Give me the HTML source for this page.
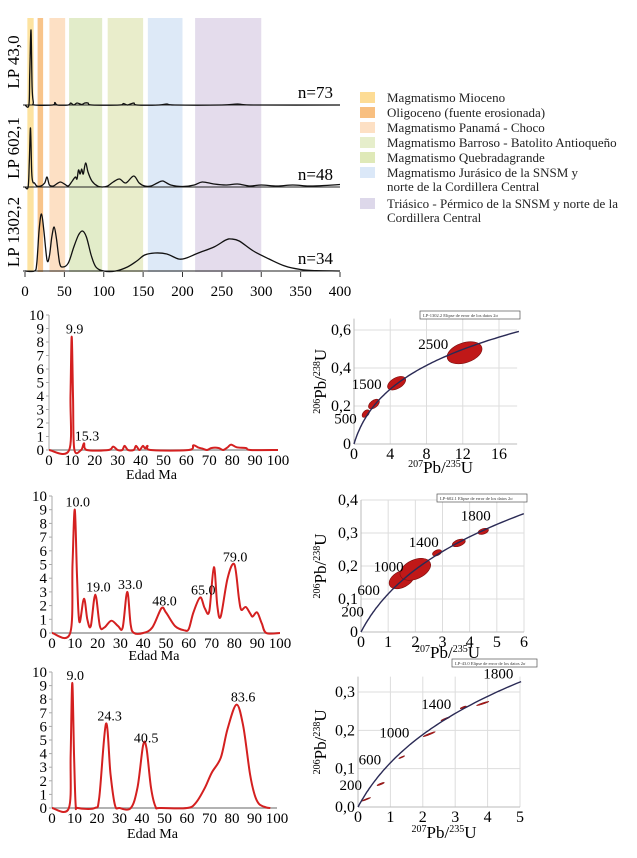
<!DOCTYPE html>
<html><head><meta charset="utf-8">
<style>
body{margin:0;background:#fff;}
svg{display:block;font-family:"Liberation Serif",serif;}
</style></head>
<body>
<svg id="fig" width="637" height="858" viewBox="0 0 637 858">
<g id="top"></g>
<g id="legend"></g>
<g id="p1"></g>
<g id="p2"></g>
<g id="p3"></g>
<g id="c1"></g>
<g id="c2"></g>
<g id="c3"></g>
</svg>
<script>
// ---------- data ----------
const bandStarts=[3,16,31,56,105,156,216];
const bandEnds=[11,23,51,98,150,200,300];
const bandColors=['#fde3a0','#f8c48a','#fde0c4','#e2ecc9','#e9edcb','#dde9f7','#e4dcec'];
const legendLabels=[['Magmatismo Mioceno'],['Oligoceno (fuente erosionada)'],['Magmatismo Panamá - Choco'],['Magmatismo Barroso - Batolito Antioqueño'],['Magmatismo Quebradagrande'],['Magmatismo Jurásico de la SNSM y','norte de la Cordillera Central'],['Triásico - Pérmico de la SNSM y norte de la','Cordillera Central']];
const legendColors=['#fddc95','#f8bf80','#fde0c4','#e6eecb','#dfe9b8','#dbe8f8','#ddd8ea'];
const sampleNames=['LP 43,0','LP 602,1','LP 1302,2'];
const sampleN=['n=73','n=48','n=34'];
const spec43=[[0,0],[5,0],[6,30],[7.6,75],[9,18],[10.5,3],[12,0],[35,0],[38,2.5],[41,0],[55,0],[58,2],[62,0],[66,2],[72,0.5],[76,2],[80,2],[85,0],[120,0],[125,1.5],[130,0],[138,2],[142,0],[170,0],[180,1],[190,0],[250,0],[270,1],[290,0],[400,0]];
const spec602=[[0,0],[4,0],[5.5,25],[7,59],[8.5,15],[10,5],[12,4],[15,1],[20,1],[25,4],[28,10],[31,2],[36,1],[40,3],[45,5],[50,3],[55,1],[60,6],[64,10],[66,8],[68,17],[70,13],[72,18],[74,13],[77,24],[80,15],[85,6],[92,1],[98,0],[105,1],[112,5],[120,8],[128,4],[138,11],[145,4],[152,1],[160,1],[168,4],[175,6],[185,2],[200,0.5],[215,2],[225,5],[240,3],[255,2],[270,3],[285,1],[300,2],[320,1],[340,2],[360,1],[380,1.5],[400,2.5]];
const spec1302=[[0,0],[12,0],[15,8],[18,42],[21,57],[24,40],[28,11],[31,15],[34,34],[37,44],[40,32],[44,8],[48,4],[55,8],[62,24],[68,36],[73,40],[78,34],[84,16],[90,4],[100,0],[115,0],[130,4],[142,10],[152,16],[165,18],[180,17],[195,12],[205,13],[220,18],[240,24],[255,31],[262,32],[272,30],[290,20],[310,12],[330,5],[350,1.5],[370,0.3],[400,0]];
const ageTicks=[0,50,100,150,200,250,300,350,400];

const prob1=[[0,0],[8.8,0],[9.4,4],[9.9,8.4],[10.5,4],[11,0.1],[14,0],[15.3,0.5],[16.5,0],[26,0],[28,0.25],[30,0],[32,0],[33,0.3],[34.5,0],[37,0],[38,0.3],[39.5,0],[41,0.3],[42,0.1],[43,0.3],[44.5,0],[61,0],[63,0.35],[65,0.2],[67,0.1],[69,0],[71,0.15],[74,0.15],[76,0],[78,0.2],[79.5,0.4],[82,0.2],[86,0.15],[88,0],[100,0]];
const prob2=[[0,0],[8,0],[9,5],[10,9],[11,4],[12,0.8],[14,2.5],[15.5,1],[17,0.5],[19,2.8],[21,0.5],[23,0.4],[26,0.9],[29,0.5],[31,0.4],[33,3],[34.5,0.6],[36,0],[40,0],[44,0.4],[48,1.8],[50,1.5],[54,0.5],[58,0.2],[60,0.3],[62,1.5],[65,2.6],[67,1.8],[69,1.6],[71,4.8],[72.5,2],[74,1.2],[77,4],[80,5],[82,2.5],[83,1.7],[85,1.9],[87,1.4],[88,1.2],[90,1.5],[92,0.7],[94,0],[100,0]];
const prob3=[[0,0],[7.5,0],[8.3,4],[9,9.2],[9.8,4],[10.5,0.3],[11.5,0],[19,0],[21,0.8],[24,6.2],[26,2.5],[28,0.2],[30,0],[35,0],[38,1.5],[40.5,4.6],[42,4.4],[44,1.5],[46,0.1],[48,0],[60,0],[64,0.4],[68,1.5],[71,2.6],[75,3.7],[78,5.8],[82,7.6],[85,6],[88,2.5],[90,1],[92,0.3],[95,0.05],[97,0]];
const peaks1=[[9.9,'9.9'],[15.3,'15.3']];
const peaks2=[[10,'10.0'],[19,'19.0'],[33,'33.0'],[48,'48.0'],[65,'65.0'],[79,'79.0']];
const peaks3=[[9,'9.0'],[24.3,'24.3'],[40.5,'40.5'],[83.6,'83.6']];
const probYTicks=[0,1,2,3,4,5,6,7,8,9,10];
const probXTicks=[0,10,20,30,40,50,60,70,80,90,100];

const ell1X=[1.3,2.2,4.7,12.2];const ell1Y=[0.16,0.21,0.32,0.48];const ell1A=[0.5,0.7,1.1,2.0];const ell1B=[0.3,0.4,0.6,1.1];
const ell2X=[1.5,2.0,2.8,3.6,4.5];const ell2Y=[0.16,0.19,0.24,0.27,0.305];const ell2A=[0.5,0.6,0.18,0.25,0.2];const ell2B=[0.3,0.35,0.1,0.12,0.1];
const ell3X=[0.25,0.7,1.35,2.2,2.7,3.25,3.85];const ell3Y=[0.02,0.06,0.13,0.19,0.23,0.26,0.27];const ell3A=[0.15,0.12,0.1,0.2,0.15,0.1,0.2];const ell3B=[0.015,0.02,0.015,0.02,0.02,0.02,0.02];
const con1XTicks=[0,4,8,12,16];const con1YTicks=[0,0.2,0.4,0.6];const con1YLab=['0','0,2','0,4','0,6'];
const con2XTicks=[0,1,2,3,4,5,6];const con2YTicks=[0,0.1,0.2,0.3,0.4];const con2YLab=['0','0,1','0,2','0,3','0,4'];
const con3XTicks=[0,1,2,3,4,5];const con3YTicks=[0,0.1,0.2,0.3];const con3YLab=['0,0','0,1','0,2','0,3'];
const con1Ages=[500,1500,2500];const con2Ages=[200,600,1000,1400,1800];const con3Ages=[200,600,1000,1400,1800];

// ---------- helpers ----------
const NS='http://www.w3.org/2000/svg';
function mk(parent,tag,attrs,text){const e=document.createElementNS(NS,tag);for(const k in attrs)e.setAttribute(k,attrs[k]);if(text!==undefined)e.textContent=text;parent.appendChild(e);return e;}
function smooth(pts){let d='M'+pts[0][0].toFixed(1)+','+pts[0][1].toFixed(1);for(let i=0;i<pts.length-1;i++){const p0=pts[Math.max(0,i-1)],p1=pts[i],p2=pts[i+1],p3=pts[Math.min(pts.length-1,i+2)];const c1x=p1[0]+(p2[0]-p0[0])/6,c1y=p1[1]+(p2[1]-p0[1])/6,c2x=p2[0]-(p3[0]-p1[0])/6,c2y=p2[1]-(p3[1]-p1[1])/6;d+=`C${c1x.toFixed(1)},${c1y.toFixed(1)} ${c2x.toFixed(1)},${c2y.toFixed(1)} ${p2[0].toFixed(1)},${p2[1].toFixed(1)}`;}return d;}

// ---------- top chart ----------
(function(){
const g=document.getElementById('top');
const ax=a=>25+a*0.7875;
for(let i=0;i<bandStarts.length;i++){
 const r=mk(g,'rect',{x:ax(bandStarts[i]),y:18,width:ax(bandEnds[i])-ax(bandStarts[i]),height:254,fill:bandColors[i]});
 
 
}
const bases=[105,187,271];const specs=[spec43,spec602,spec1302];
for(let s=0;s<3;s++){
 const bl=mk(g,'line',{x1:23,x2:340,y1:bases[s],y2:bases[s],stroke:'#222','stroke-width':1});
 
 
 const p=mk(g,'path',{d:smooth(specs[s].map(q=>[ax(q[0]),bases[s]-q[1]])),fill:'none',stroke:'#111','stroke-width':1.3});
 
 
 const cy=[62,148,232][s];
 const t=mk(g,'text',{x:0,y:0,'font-size':17,'text-anchor':'middle',transform:`translate(19,${cy}) rotate(-90)`},sampleNames[s]);
 
 
 const n=mk(g,'text',{x:333,y:bases[s]-7,'font-size':17,'text-anchor':'end'},sampleN[s]);
 
 
}
ageTicks.forEach(v=>{
 mk(g,'line',{x1:ax(v),x2:ax(v),y1:272,y2:277,stroke:'#333'});
 const t=mk(g,'text',{x:ax(v),y:296,'font-size':15,'text-anchor':'middle'},v);
 
 
});
})();

// ---------- legend ----------
(function(){
const g=document.getElementById('legend');
let y=102;
legendLabels.forEach((lines,i)=>{
 const r=mk(g,'rect',{x:360,y:y-10,width:15,height:11,fill:legendColors[i]});
 
 
 lines.forEach((l,j)=>{
  const t=mk(g,'text',{x:387,y:y+j*14,'font-size':13,fill:'#222'},l);
  
  
 });
 y+=lines.length>1?31:15;
});
})();

// ---------- probability charts ----------
function probChart(id,data,peaks,x0,x1,y0,y10,titleY){
 const g=document.getElementById(id);
 const sx=v=>x0+v*(x1-x0)/100, sy=v=>y0+v*(y10-y0)/10;
 mk(g,'line',{x1:x0,x2:x0,y1:sy(10),y2:y0,stroke:'#aaa'});
 mk(g,'line',{x1:x0,x2:x1,y1:y0,y2:y0,stroke:'#999','stroke-width':1.5});
 probYTicks.forEach(v=>{
  mk(g,'line',{x1:x0-3,x2:x0,y1:sy(v),y2:sy(v),stroke:'#aaa'});
  const t=mk(g,'text',{x:x0-5,y:sy(v)+5,'font-size':15,'text-anchor':'end'},v);
  
  
 });
 probXTicks.forEach(v=>{
  const t=mk(g,'text',{x:sx(v),y:y0+15,'font-size':15,'text-anchor':'middle'},v);
  
  
 });
 const xt=mk(g,'text',{x:(x0+x1)/2-12,y:titleY,'font-size':14,'text-anchor':'middle'},'Edad Ma');
 
 
 const p=mk(g,'path',{d:smooth(data.map(q=>[sx(q[0]),sy(q[1])])),fill:'none',stroke:'#d42020','stroke-width':2});
 
 
 peaks.forEach(pk=>{
  let h=0;data.forEach(q=>{if(Math.abs(q[0]-pk[0])<=1.6)h=Math.max(h,q[1]);});
  const t=mk(g,'text',{x:sx(pk[0])+3,y:sy(h)-3,'font-size':14,'text-anchor':'middle'},pk[1]);
  
  
 });
}
probChart('p1',prob1,peaks1,49,278,450,315,479);
probChart('p2',prob2,peaks2,52,280,633,496,660);
probChart('p3',prob3,peaks3,52,277,808,672,838);

// ---------- concordia charts ----------
const L238=1.55125e-10,L235=9.8485e-10;
function concordia(id,xT,yT,yLab,xMax,yMax,ox,oxEnd,xEndVal,oy,oyEnd,yEndVal,ages,eX,eY,eA,eB,box,boxText,yTitleX,titleDy){
 const g=document.getElementById(id);
 const sx=v=>ox+v*(oxEnd-ox)/xEndVal, sy=v=>oy-v*(oy-oyEnd)/yEndVal;
 const right=sx(xMax), top=sy(yMax);
 xT.forEach(v=>{ if(v>0) mk(g,'line',{x1:sx(v),x2:sx(v),y1:top,y2:oy,stroke:'#ddd'});
  const t=mk(g,'text',{x:sx(v),y:oy+15,'font-size':16,'text-anchor':'middle'},v);
  
  });
 yT.forEach((v,i)=>{ if(v>0) mk(g,'line',{x1:ox,x2:right,y1:sy(v),y2:sy(v),stroke:'#ddd'});
  const t=mk(g,'text',{x:ox-3,y:sy(v)+5,'font-size':16,'text-anchor':'end'},yLab[i]);
  
  });
 mk(g,'line',{x1:ox,x2:ox,y1:top,y2:oy,stroke:'#bbb'});
 mk(g,'line',{x1:ox,x2:right,y1:oy,y2:oy,stroke:'#bbb'});
 for(let i=0;i<eX.length;i++){
  const cx=sx(eX[i]),cy=sy(eY[i]);
  const ang=-Math.atan2((sy(eY[i]*1.1)-cy)*-1, (sx(eX[i]*1.25)-cx))*180/Math.PI;
  const e=mk(g,'ellipse',{cx:cx,cy:cy,rx:eA[i]*(oxEnd-ox)/xEndVal,ry:eB[i]*(oxEnd-ox)/xEndVal,fill:'#c01818',stroke:'#7a0d0d','stroke-width':0.6,transform:`rotate(${ang.toFixed(1)} ${cx} ${cy})`});
  
  
 }
 const pts=[];for(let a=0;a<=4500e6;a+=25e6){const x=Math.exp(L235*a)-1,y=Math.exp(L238*a)-1;if(x>xMax*1.02)break;pts.push([sx(x),sy(y)]);}
 const c=mk(g,'path',{d:'M'+pts.map(p=>p[0].toFixed(1)+','+p[1].toFixed(1)).join('L'),fill:'none',stroke:'#2a2a55','stroke-width':1.4});
 
 
 ages.forEach(a=>{const x=Math.exp(L235*a*1e6)-1,y=Math.exp(L238*a*1e6)-1;
  const t=mk(g,'text',{x:sx(x)-3,y:sy(y)-5,'font-size':15,'text-anchor':'end'},a);
  
  });
 const b=mk(g,'rect',{x:box[0],y:box[1],width:box[2],height:8,fill:'#fff',stroke:'#555','stroke-width':0.7});
 
 
 mk(g,'text',{x:box[0]+3,y:box[1]+6,'font-size':4.5,fill:'#333'},boxText);
 const xt=mk(g,'text',{x:(ox+right)/2+5,y:oy+titleDy,'font-size':17,'text-anchor':'middle'});
 
 
 xt.innerHTML='<tspan font-size="10" dy="-6">207</tspan><tspan dy="6">Pb/</tspan><tspan font-size="10" dy="-6">235</tspan><tspan dy="6">U</tspan>';
 const yt=mk(g,'text',{x:0,y:0,'font-size':17,'text-anchor':'middle',transform:`translate(${yTitleX},${(top+oy)/2}) rotate(-90)`});
 
 
 yt.innerHTML='<tspan font-size="10" dy="-6">206</tspan><tspan dy="6">Pb/</tspan><tspan font-size="10" dy="-6">238</tspan><tspan dy="6">U</tspan>';
}
concordia('c1',con1XTicks,con1YTicks,con1YLab,18,0.66,354,499,16,444,330,0.6,con1Ages,ell1X,ell1Y,ell1A,ell1B,[420,311,100],'LP-1302.2  Elipse de error de los datos 2σ',326,29);
concordia('c2',con2XTicks,con2YTicks,con2YLab,6,0.4,361,524,6,632,500,0.4,con2Ages,ell2X,ell2Y,ell2A,ell2B,[437,494,90],'LP-602.1  Elipse de error de los datos 2σ',326,26);
concordia('c3',con3XTicks,con3YTicks,con3YLab,5,0.34,358,520,5,807,692,0.3,con3Ages,ell3X,ell3Y,ell3A,ell3B,[452,659,85],'LP-43.0  Elipse de error de los datos 2σ',326,31);
</script>
</body></html>
